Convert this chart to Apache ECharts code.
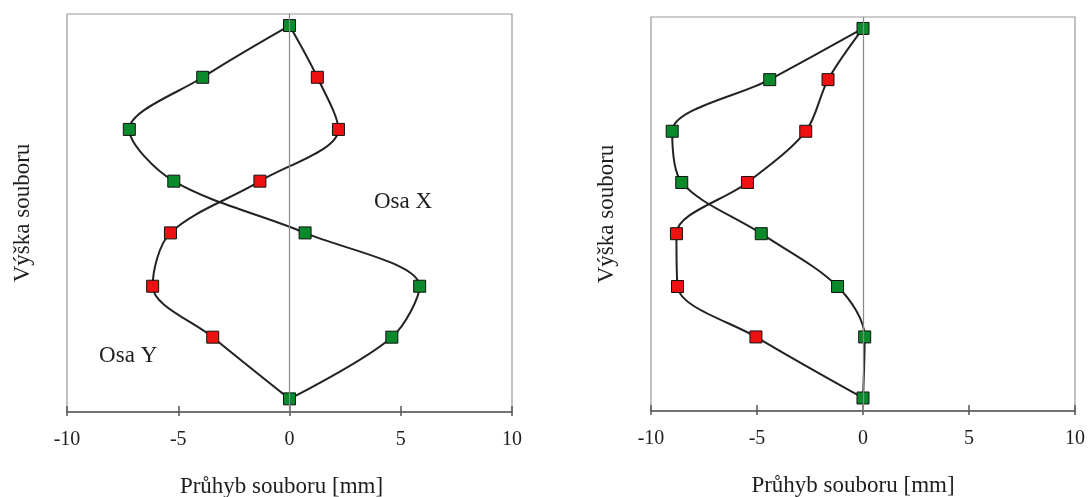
<!DOCTYPE html>
<html>
<head>
<meta charset="utf-8">
<script src="https://cdn.jsdelivr.net/npm/echarts@6/dist/echarts.min.js"></script>
<style>
html,body{margin:0;padding:0;background:#fff;}
#chart{width:1088px;height:497px;}
</style>
</head>
<body>
<div id="chart"></div>
<script>
// Heights of measurement levels (top to bottom), relative units
const levels = [97.1, 84.1, 71, 58, 45, 31.6, 18.8, 3.3];
// Left panel deflections [mm]
const leftGreen = [0, -3.9, -7.2, -5.2, 0.7, 5.85, 4.6, 0];
const leftRed   = [0, 1.25, 2.2, -1.33, -5.35, -6.15, -3.45, 0];
// Right panel deflections [mm]
const rightGreen = [0, -4.4, -9.0, -8.55, -4.8, -1.2, 0.08, 0];
const rightRed   = [0, -1.65, -2.7, -5.45, -8.8, -8.75, -5.05, 0];
// Axis settings
const xMin = -10, xMax = 10, xStep = 5;
const xTitle = 'Průhyb souboru [mm]';
const yTitle = 'Výška souboru';
// Annotations in the left panel [x mm, height]
const annotations = [
  {text: 'Osa X', x: 5.1, y: 52.8},
  {text: 'Osa Y', x: -7.25, y: 14.0}
];

const FONT = 'Liberation Serif';
const TXT = '#1e1e1e';
const GREEN = '#0b8a2c';
const RED = '#ee1111';

function pts(xs, hideEnds) {
  return xs.map((x, i) => {
    const item = {value: [x, levels[i]]};
    if (hideEnds && (i === 0 || i === xs.length - 1)) item.symbol = 'none';
    return item;
  });
}

function xAxes(gridIndex, namePad) {
  return [
    {
      type: 'value', gridIndex, min: xMin, max: xMax, interval: xStep,
      position: 'bottom',
      axisLine: {show: true, onZero: false, lineStyle: {color: '#555', width: 1.5}},
      axisTick: {show: true, length: 4, lineStyle: {color: '#555', width: 1.5}},
      axisLabel: {show: true, margin: 18, color: TXT, fontFamily: FONT, fontSize: 20},
      splitLine: {show: false},
      name: xTitle, nameLocation: 'middle', nameGap: 63,
      nameTextStyle: {color: TXT, fontFamily: FONT, fontSize: 23, padding: namePad}
    },
    {
      type: 'value', gridIndex, min: xMin, max: xMax, interval: xStep,
      position: 'bottom',
      axisLine: {show: false, onZero: false},
      axisTick: {show: true, inside: true, length: 6, lineStyle: {color: '#555', width: 1.5}},
      axisLabel: {show: false},
      splitLine: {show: false}
    }
  ];
}

function yAxis(gridIndex) {
  return {
    type: 'value', gridIndex, min: 0, max: 100,
    axisLine: {show: false},
    axisTick: {show: false},
    axisLabel: {show: false},
    splitLine: {show: false},
    name: yTitle, nameLocation: 'middle', nameRotate: 90, nameGap: 33,
    nameTextStyle: {color: TXT, fontFamily: FONT, fontSize: 23}
  };
}

function lineSeries(xIdx, yIdx, xs, color, hideEnds, z) {
  return {
    type: 'line', xAxisIndex: xIdx, yAxisIndex: yIdx,
    data: pts(xs, hideEnds),
    smooth: 0.32,
    symbol: 'rect', symbolSize: 12,
    showAllSymbol: true,
    lineStyle: {color: '#222', width: 2},
    itemStyle: {color: color, borderColor: '#111', borderWidth: 1},
    z: z, silent: true, animation: false
  };
}

function zeroLine(xIdx, yIdx) {
  return {
    type: 'line', xAxisIndex: xIdx, yAxisIndex: yIdx, data: [], z: 1,
    markLine: {
      silent: true, symbol: 'none', animation: false,
      label: {show: false},
      lineStyle: {color: '#8a8a8a', type: 'solid', width: 1.2},
      data: [{xAxis: 0}]
    }
  };
}

const option = {
  backgroundColor: '#fff',
  animation: false,
  grid: [
    {left: 67, right: 576, top: 14, bottom: 85, show: true, borderColor: '#999', borderWidth: 1.2, backgroundColor: 'transparent', outerBoundsMode: 'none', containLabel: false},
    {left: 651, right: 13, top: 17, bottom: 86, show: true, borderColor: '#999', borderWidth: 1.2, backgroundColor: 'transparent', outerBoundsMode: 'none', containLabel: false}
  ],
  xAxis: [...xAxes(0, [0, 16, 0, 0]), ...xAxes(1, [0, 20, 0, 0])],
  yAxis: [yAxis(0), yAxis(1)],
  series: [
    zeroLine(0, 0),
    lineSeries(0, 0, leftRed, RED, true, 3),
    lineSeries(0, 0, leftGreen, GREEN, false, 4),
    zeroLine(2, 1),
    lineSeries(2, 1, rightRed, RED, true, 3),
    lineSeries(2, 1, rightGreen, GREEN, false, 4)
  ]
};

const chart = echarts.init(document.getElementById('chart'), null, {renderer: 'canvas'});
chart.setOption(option);
// Place annotation texts at data coordinates of the left panel
chart.setOption({
  graphic: annotations.map(a => {
    const p = chart.convertToPixel({xAxisIndex: 0, yAxisIndex: 0}, [a.x, a.y]);
    return {
      type: 'text', x: p[0], y: p[1], silent: true, z: 10,
      style: {text: a.text, fill: TXT, font: '23px "Liberation Serif"', align: 'center', verticalAlign: 'middle'}
    };
  })
});
</script>
</body>
</html>
